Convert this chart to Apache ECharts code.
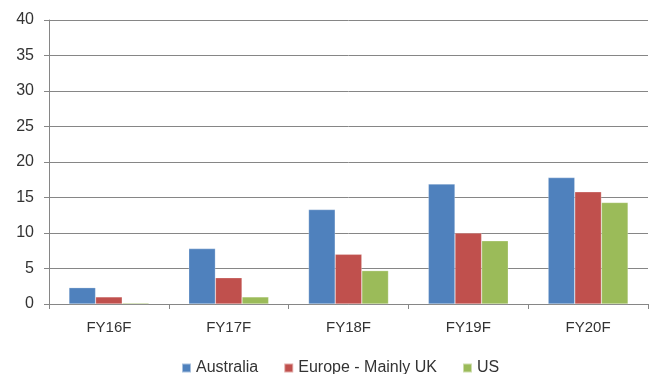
<!DOCTYPE html>
<html><head><meta charset="utf-8">
<script src="https://cdn.jsdelivr.net/npm/echarts@6/dist/echarts.min.js"></script>
<style>html,body{margin:0;padding:0;background:#fff}#c{width:653px;height:374px}</style>
</head><body><div id="c"></div>
<script>
const categories = ["FY16F","FY17F","FY18F","FY19F","FY20F"];
const australia = [2.3, 7.8, 13.3, 16.9, 17.8];
const europe = [1.0, 3.7, 7.0, 10.0, 15.8];
const us = [0.15, 1.0, 4.7, 8.9, 14.3];
const seriesNames = ["Australia","Europe - Mainly UK","US"];
const colors = ["#4F81BD","#C0504D","#9BBB59"];
const font = "'Liberation Sans', Arial, sans-serif";
const chart = echarts.init(document.getElementById('c'));
const mk = (name, data, i) => ({
  name, type: 'bar', data, barGap: '0%', barCategoryGap: '33.3%',
  itemStyle: { color: colors[i], borderColor: 'rgba(255,255,255,0.5)', borderWidth: 0.5 },
  animation: false
});
chart.setOption({
  animation: false,
  grid: { left: 49, right: 5, top: 20, bottom: 70, containLabel: false },
  legend: {
    data: seriesNames, left: 176, top: 355, itemWidth: 9, itemHeight: 9, itemGap: 25,
    icon: 'rect', textStyle: { fontFamily: font, fontSize: 16, color: '#333333' }
  },
  xAxis: {
    type: 'category', data: categories,
    axisLine: { lineStyle: { color: '#868686', width: 1 } },
    axisTick: { show: true, length: 5, lineStyle: { color: '#868686' } },
    axisLabel: { fontFamily: font, fontSize: 15, color: '#333333', margin: 16 }
  },
  yAxis: {
    type: 'value', min: 0, max: 40, interval: 5,
    axisLine: { show: true, lineStyle: { color: '#868686', width: 1 } },
    axisTick: { show: true, length: 5, lineStyle: { color: '#868686' } },
    splitLine: { lineStyle: { color: '#868686', width: 1 } },
    axisLabel: { fontFamily: font, fontSize: 16, color: '#333333', margin: 15 }
  },
  series: [mk(seriesNames[0], australia, 0), mk(seriesNames[1], europe, 1), mk(seriesNames[2], us, 2)]
});
</script></body></html>
